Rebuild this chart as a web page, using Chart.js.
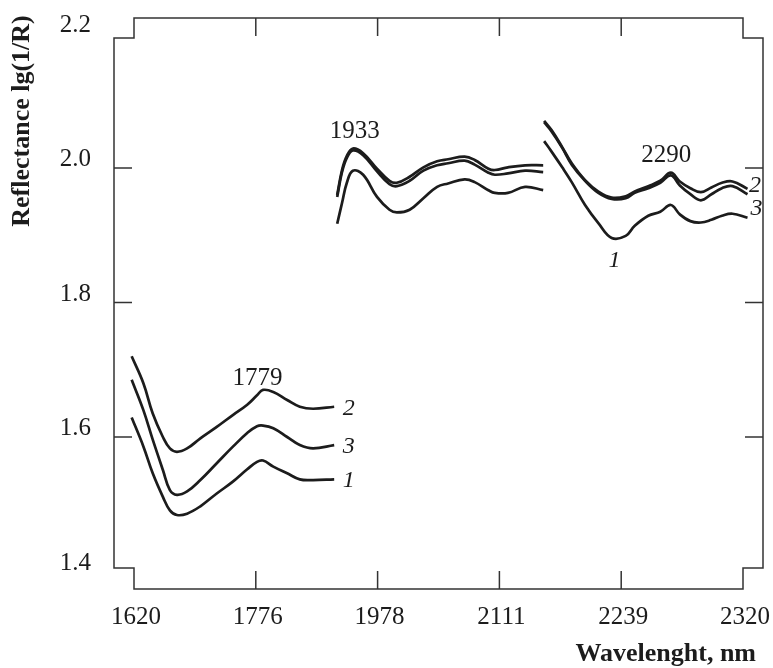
<!DOCTYPE html>
<html>
<head>
<meta charset="utf-8">
<script src="https://cdn.jsdelivr.net/npm/chart.js@4"></script>
<style>
  body { margin: 0; background: #fff; }
  canvas { display: block; }
</style>
</head>
<body>
<canvas id="spectraChart" width="773" height="668"></canvas>
<script>
// axis ticks (x axis is drawn with evenly spaced, non-linear wavelength ticks)
const wavelengthTicks = [1620, 1776, 1978, 2111, 2239, 2320];
const reflectanceTicks = [1.4, 1.6, 1.8, 2.0, 2.2];

// segment A, ~1620-1906 nm
const wlA = [1617, 1632, 1644, 1657, 1666, 1675, 1688, 1705, 1726, 1747, 1765, 1778, 1788, 1805, 1828, 1849, 1871, 1906];
const s1A = [1.629, 1.586, 1.546, 1.511, 1.491, 1.484, 1.486, 1.497, 1.516, 1.534, 1.552, 1.563, 1.565, 1.556, 1.546, 1.537, 1.536, 1.537];
const s2A = [1.720, 1.680, 1.635, 1.600, 1.583, 1.578, 1.583, 1.598, 1.615, 1.633, 1.648, 1.662, 1.670, 1.667, 1.655, 1.645, 1.642, 1.645];
const s3A = [1.685, 1.640, 1.596, 1.551, 1.521, 1.514, 1.519, 1.536, 1.561, 1.586, 1.606, 1.616, 1.617, 1.613, 1.600, 1.588, 1.583, 1.588];

// segment B, ~1911-2157 nm
const wlB = [1911, 1919, 1927, 1937, 1954, 1977, 1991, 1999, 2013, 2028, 2043, 2055, 2073, 2084, 2099, 2106, 2120, 2138, 2157];
const s1B = [1.917, 1.948, 1.978, 1.996, 1.990, 1.957, 1.938, 1.934, 1.938, 1.955, 1.972, 1.977, 1.983, 1.979, 1.967, 1.963, 1.963, 1.972, 1.967];
const s2B = [1.960, 1.997, 2.018, 2.029, 2.022, 1.999, 1.981, 1.978, 1.987, 2.001, 2.010, 2.013, 2.017, 2.012, 1.999, 1.997, 2.001, 2.004, 2.004];
const s3B = [1.957, 1.994, 2.015, 2.026, 2.019, 1.995, 1.976, 1.973, 1.981, 1.996, 2.004, 2.007, 2.011, 2.005, 1.993, 1.990, 1.992, 1.996, 1.994];

// segment C, ~2158-2323 nm
const wlC = [2158, 2166, 2177, 2187, 2201, 2215, 2229, 2242, 2248, 2257, 2265, 2272, 2278, 2285, 2292, 2299, 2306, 2313, 2323];
const s1C = [2.040, 2.024, 2.001, 1.979, 1.945, 1.918, 1.896, 1.899, 1.914, 1.929, 1.935, 1.945, 1.931, 1.921, 1.919, 1.923, 1.929, 1.932, 1.926];
const s2C = [2.070, 2.056, 2.031, 2.007, 1.982, 1.965, 1.956, 1.958, 1.965, 1.973, 1.981, 1.993, 1.980, 1.970, 1.964, 1.971, 1.978, 1.980, 1.969];
const s3C = [2.068, 2.054, 2.030, 2.005, 1.981, 1.963, 1.954, 1.955, 1.963, 1.970, 1.978, 1.989, 1.974, 1.961, 1.952, 1.961, 1.970, 1.973, 1.961];

// text labels on the plot
const peakLabels = [
    { text: '1779', wl: 1779, v: 1.677 },
    { text: '1933', wl: 1940, v: 2.045 },
    { text: '2290', wl: 2269, v: 2.009 }
];
const curveLabels = [
    { text: '2', wl: 1930, v: 1.633 },
    { text: '3', wl: 1930, v: 1.576 },
    { text: '1', wl: 1930, v: 1.526 },
    { text: '2', wl: 2328, v: 1.964 },
    { text: '3', wl: 2329, v: 1.930 },
    { text: '1', wl: 2232, v: 1.853 }
];

const ink = '#1c1c1c';

// wavelength -> position on the evenly spaced tick axis
const toAxis = function (w) {
    const t = wavelengthTicks;
    let i = 0;
    while (i < t.length - 2 && w > t[i + 1]) i++;
    return i + (w - t[i]) / (t[i + 1] - t[i]);
};

const makeLine = function (wl, values) {
    let pts = [];
    for (var i = 0; i < wl.length; i++) {
        pts.push({ x: toAxis(wl[i]), y: values[i] });
    }
    return {
        data: pts,
        borderColor: ink,
        borderWidth: 2.7,
        pointRadius: 0,
        fill: false,
        tension: 0.4,
        clip: false
    };
};

const frameAndLabels = {
    id: 'frameAndLabels',
    afterDraw(chart) {
        const ctx = chart.ctx;
        const a = chart.chartArea;
        const x = chart.scales.x, y = chart.scales.y;
        const L = a.left - 20, R = a.right + 20;
        const T = a.top - 15.5, B = a.bottom + 17.5;
        const yt = a.top + 4.5, yb = a.bottom - 3.5;

        ctx.save();
        ctx.strokeStyle = '#333';
        ctx.lineWidth = 1.5;
        ctx.beginPath();
        ctx.moveTo(L, yt); ctx.lineTo(a.left, yt); ctx.lineTo(a.left, T);
        ctx.lineTo(a.right, T); ctx.lineTo(a.right, yt); ctx.lineTo(R, yt);
        ctx.lineTo(R, yb); ctx.lineTo(a.right, yb); ctx.lineTo(a.right, B);
        ctx.lineTo(a.left, B); ctx.lineTo(a.left, yb); ctx.lineTo(L, yb);
        ctx.closePath();
        ctx.stroke();

        // tick marks
        ctx.beginPath();
        reflectanceTicks.slice(1, -1).forEach(function (v) {
            const py = y.getPixelForValue(v);
            ctx.moveTo(L, py); ctx.lineTo(L + 18, py);
            ctx.moveTo(R, py); ctx.lineTo(R - 18, py);
        });
        wavelengthTicks.slice(1, -1).forEach(function (w) {
            const px = x.getPixelForValue(toAxis(w));
            ctx.moveTo(px, T); ctx.lineTo(px, T + 18);
            ctx.moveTo(px, B); ctx.lineTo(px, B - 18);
        });
        ctx.stroke();

        // tick labels
        ctx.fillStyle = ink;
        ctx.font = '25px "Liberation Serif"';
        ctx.textBaseline = 'alphabetic';
        ctx.textAlign = 'right';
        reflectanceTicks.forEach(function (v) {
            ctx.fillText(v.toFixed(1), L - 23, y.getPixelForValue(v) - 2);
        });
        ctx.textAlign = 'center';
        wavelengthTicks.forEach(function (w) {
            ctx.fillText(String(w), x.getPixelForValue(toAxis(w)) + 2, B + 35);
        });

        // peak and curve labels
        peakLabels.forEach(function (p) {
            ctx.fillText(p.text, x.getPixelForValue(toAxis(p.wl)), y.getPixelForValue(p.v));
        });
        ctx.font = 'italic 24px "Liberation Serif"';
        curveLabels.forEach(function (p) {
            ctx.fillText(p.text, x.getPixelForValue(toAxis(p.wl)), y.getPixelForValue(p.v));
        });

        // axis titles
        ctx.font = 'bold 26px "Liberation Serif"';
        ctx.textAlign = 'right';
        ctx.fillText('Wavelenght, nm', R - 7, B + 72);
        ctx.translate(L - 92, (T + yb) / 2 - 172);
        ctx.rotate(-Math.PI / 2);
        ctx.textAlign = 'center';
        ctx.textBaseline = 'middle';
        ctx.fillText('Reflectance lg(1/R)', 0, 0);
        ctx.restore();
    }
};

const spectraChart = new Chart(document.getElementById('spectraChart'), {
    type: 'line',
    data: {
        datasets: [
            makeLine(wlA, s1A), makeLine(wlA, s2A), makeLine(wlA, s3A),
            makeLine(wlB, s1B), makeLine(wlB, s2B), makeLine(wlB, s3B),
            makeLine(wlC, s1C), makeLine(wlC, s2C), makeLine(wlC, s3C)
        ]
    },
    options: {
        responsive: false,
        animation: false,
        layout: { padding: { left: 134, right: 30, top: 33.5, bottom: 96.5 } },
        scales: {
            x: { type: 'linear', min: 0, max: wavelengthTicks.length - 1, display: false },
            y: { min: reflectanceTicks[0], max: reflectanceTicks[reflectanceTicks.length - 1], display: false }
        },
        plugins: {
            legend: { display: false },
            tooltip: { enabled: false }
        }
    },
    plugins: [frameAndLabels]
});
</script>
</body>
</html>
